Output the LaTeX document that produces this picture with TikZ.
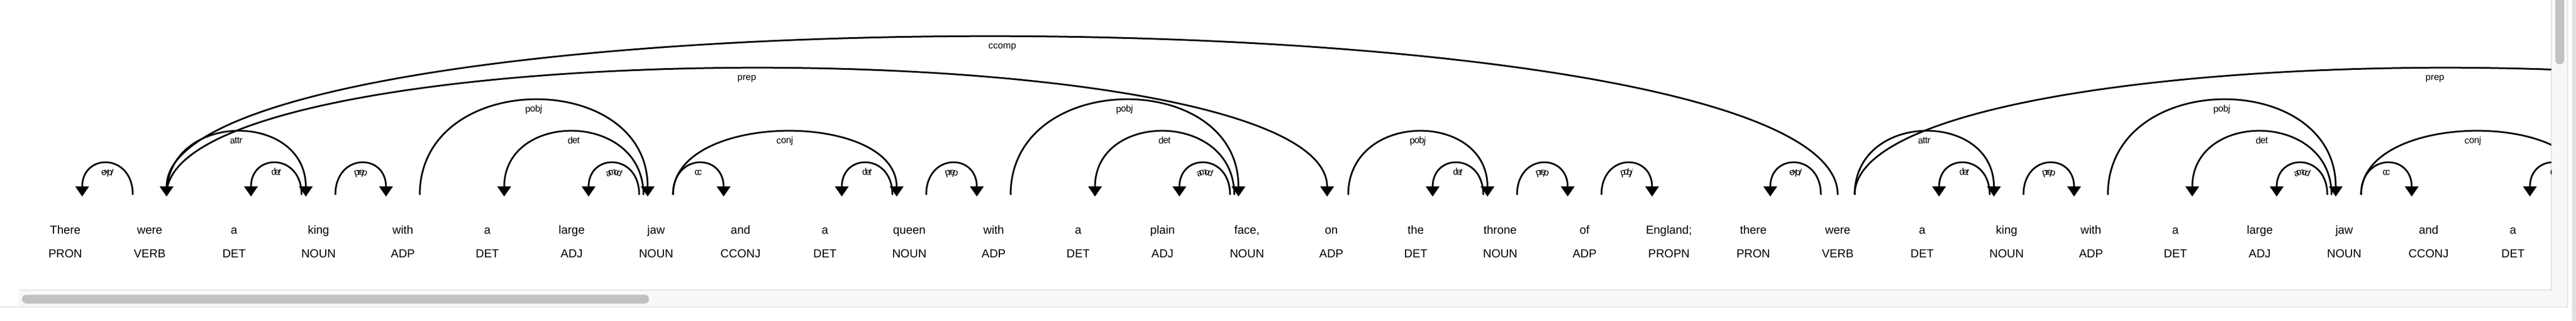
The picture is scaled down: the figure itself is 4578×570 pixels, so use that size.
\documentclass[tikz,border=0pt]{standalone}
\usepackage{fontspec}
\setmainfont{Liberation Sans}
\usetikzlibrary{arrows.meta, decorations.text}

\definecolor{trackgray}{HTML}{F8F8F8}
\definecolor{edgegray}{HTML}{E4E4E4}
\definecolor{thumbgray}{HTML}{C1C1C1}
\definecolor{stripgray}{HTML}{E0E0E0}

\newcommand{\lblfont}{\fontsize{16.6}{20}\selectfont}
%arc from foot #1 to foot #2, level #3, label #4, head #5
\newcommand{\deparc}[5]{
\draw[arc,#5] ([xshift=30pt]f#1) .. controls +(0,{-74.67*#3}) and +(0,{-74.67*#3}) .. ([xshift={-7.5*(5-#3)}]f#2);
\path[decorate,decoration={text along path,text align=center,raise=-20.75pt,text={|\lblfont|#4}}] ([xshift=30pt]f#1) .. controls +(0,{-74.67*#3}) and +(0,{-74.67*#3}) .. ([xshift={-7.5*(5-#3)}]f#2);
}

\begin{document}
\begin{tikzpicture}[x=1pt,y=-1pt,
  word/.style={anchor=base,inner sep=0pt,font=\fontsize{20.7}{24}\selectfont},
  arc/.style={line width=3pt,>={Triangle[width=24pt,length=18pt]}},
  hl/.style={<-,shorten <=-3pt},
  hr/.style={->,shorten >=-3pt}]
\useasboundingbox (0,0) rectangle (4578,570);
%scroll bars
\fill[trackgray] (33,515) rectangle (4563,545);
\fill[trackgray] (4534,0) rectangle (4563,515);
\draw[edgegray,line width=1.2pt] (33,515) -- (4534,515) -- (4534,0);
\draw[edgegray,line width=1.5pt] (0,545) -- (4563,545) -- (4563,0);
\fill[stripgray] (4571,0) rectangle (4578,570);
\fill[thumbgray,rounded corners=7.8pt] (39,523.3) rectangle (1153.5,539);
\fill[thumbgray,rounded corners=7.8pt] (4541.3,-10) rectangle (4557,114.3);
\begin{scope}
\clip (0,0) rectangle (4534,515);
%words and tags
\foreach \i/\w/\t in {0/There/PRON,1/were/VERB,2/a/DET,3/king/NOUN,4/with/ADP,5/a/DET,6/large/ADJ,7/jaw/NOUN,8/and/CCONJ,9/a/DET,10/queen/NOUN,11/with/ADP,12/a/DET,13/plain/ADJ,14/{face,}/NOUN,15/on/ADP,16/the/DET,17/throne/NOUN,18/of/ADP,19/England;/PROPN,20/there/PRON,21/were/VERB,22/a/DET,23/king/NOUN,24/with/ADP,25/a/DET,26/large/ADJ,27/jaw/NOUN,28/and/CCONJ,29/a/DET}{
  \node[word] (w\i) at ({116+150*\i},415) {\w};
  \node[word] (t\i) at ({116+150*\i},457) {\t};
  \coordinate (f\i) at ([yshift=69pt]w\i.base);
}
%feet of words cut off on the right
\coordinate (f30) at (4616,346);
\coordinate (f35) at (5366,346);
%first sentence
\deparc{0}{1}{1}{expl}{hl}
\deparc{2}{3}{1}{det}{hl}
\deparc{1}{3}{2}{attr}{hr}
\deparc{3}{4}{1}{prep}{hr}
\deparc{4}{7}{3}{pobj}{hr}
\deparc{5}{7}{2}{det}{hl}
\deparc{6}{7}{1}{amod}{hl}
\deparc{7}{8}{1}{cc}{hr}
\deparc{7}{10}{2}{conj}{hr}
\deparc{9}{10}{1}{det}{hl}
\deparc{10}{11}{1}{prep}{hr}
\deparc{11}{14}{3}{pobj}{hr}
\deparc{12}{14}{2}{det}{hl}
\deparc{13}{14}{1}{amod}{hl}
\deparc{1}{15}{4}{prep}{hr}
\deparc{15}{17}{2}{pobj}{hr}
\deparc{16}{17}{1}{det}{hl}
\deparc{17}{18}{1}{prep}{hr}
\deparc{18}{19}{1}{pobj}{hr}
%second sentence
\deparc{20}{21}{1}{expl}{hl}
\deparc{1}{21}{5}{ccomp}{hl}
\deparc{21}{23}{2}{attr}{hr}
\deparc{22}{23}{1}{det}{hl}
\deparc{23}{24}{1}{prep}{hr}
\deparc{24}{27}{3}{pobj}{hr}
\deparc{25}{27}{2}{det}{hl}
\deparc{26}{27}{1}{amod}{hl}
\deparc{27}{28}{1}{cc}{hr}
\deparc{27}{30}{2}{conj}{hr}
\deparc{29}{30}{1}{det}{hl}
\deparc{21}{35}{4}{prep}{hr}
\end{scope}
\end{tikzpicture}
\end{document}
